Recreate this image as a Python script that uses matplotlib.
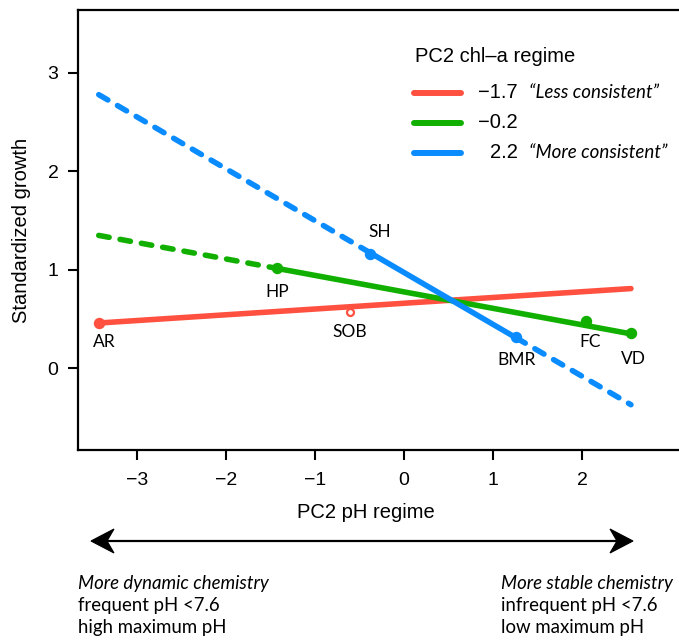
import matplotlib
matplotlib.use("Agg")
import matplotlib.pyplot as plt
from matplotlib.lines import Line2D
from matplotlib.patches import Polygon

# ---------------- data ----------------
regimes = ["\u22121.7", "\u22120.2", "2.2"]
regime_notes = ["\u201cLess consistent\u201d", "", "\u201cMore consistent\u201d"]
colors = ["#FF5040", "#11B000", "#0A8CFF"]

line_x = [-3.43, 2.55]                 # full extent of fitted lines
line_y = [[0.46, 0.81],                # -1.7
          [1.35, 0.35],                # -0.2
          [2.78, -0.37]]               # 2.2
solid_range = [[-3.43, 2.55], [-1.43, 2.55], [-0.38, 1.26]]

sites = ["AR", "SOB", "HP", "FC", "VD", "SH", "BMR"]
site_x = [-3.43, -0.61, -1.43, 2.04, 2.55, -0.38, 1.26]
site_y = [0.46, 0.57, 1.02, 0.48, 0.36, 1.16, 0.32]
site_regime = [0, 0, 1, 1, 1, 2, 2]
# label offsets in points
site_off = [(4, -14), (0, -14), (0, -17), (3, -15), (2, -19), (7, 16), (0, -17)]

xticks = [-3, -2, -1, 0, 1, 2]
yticks = [0, 1, 2, 3]

W, H = 679, 640
fig = plt.figure(figsize=(W / 100, H / 100), dpi=100)
def fx(x): return x / W
def fy(y): return 1 - y / H

ax = fig.add_axes([fx(78), fy(450), fx(679) - fx(78), fy(10) - fy(450)])
ax.set_xlim(-3.663, 3.09)
ax.set_ylim(-0.83, 3.64)

lw = 4.0
dash = (0, (1.9, 2.0))

def yat(i, x):
    (x0, x1), (y0, y1) = line_x, line_y[i]
    return y0 + (y1 - y0) * (x - x0) / (x1 - x0)

for i in range(3):
    a, b = solid_range[i]
    c = colors[i]
    if a > line_x[0]:
        ax.plot([line_x[0], a], [yat(i, line_x[0]), yat(i, a)], color=c, lw=lw,
                linestyle=dash, dash_capstyle="round", zorder=3)
    if b < line_x[1]:
        ax.plot([b, line_x[1]], [yat(i, b), yat(i, line_x[1])], color=c, lw=lw,
                linestyle=dash, dash_capstyle="round", zorder=3)
    ax.plot([a, b], [yat(i, a), yat(i, b)], color=c, lw=lw,
            solid_capstyle="round", zorder=4 if i != 0 else 3.5)

for s, x, y, r, off in zip(sites, site_x, site_y, site_regime, site_off):
    if s == "SOB":
        ax.plot(x, y, "o", ms=5, mfc="white", mec=colors[r], mew=1.6, zorder=3.2)
    else:
        ax.plot(x, y, "o", ms=7.2, color=colors[r], zorder=5)
    ax.annotate(s, (x, y), xytext=off, textcoords="offset points",
                ha="center", va="center", fontsize=12.5, family="Lato")

ax.set_xticks(xticks)
ax.set_xticklabels([f"\u2212{abs(t)}" if t < 0 else str(t) for t in xticks])
ax.set_yticks(yticks)
ax.tick_params(direction="out", length=7, width=1.5, labelsize=14)
ax.tick_params(axis="x", pad=9)
ax.tick_params(axis="y", pad=7)
for sp in ["left", "bottom", "top"]:
    ax.spines[sp].set_linewidth(1.6)
ax.spines["right"].set_visible(False)
ax.set_ylabel("Standardized growth", fontsize=14.5, labelpad=12)
for t in ax.get_xticklabels() + ax.get_yticklabels():
    t.set_family("Liberation Sans")
ax.yaxis.label.set_family("Liberation Sans")

# x label
fig.text(fx(366), fy(513), "PC2 pH regime", ha="center", va="center",
         fontsize=14.5, family="Liberation Sans")

# legend (manual)
fig.text(fx(415), fy(57), "PC2 chl\u2013a regime", ha="left", va="center",
         fontsize=14.5, family="Liberation Sans")
leg_y = [93, 123, 153]
for i in range(3):
    fig.add_artist(Line2D([fx(414), fx(461)], [fy(leg_y[i])] * 2, color=colors[i],
                          lw=lw + 0.3, solid_capstyle="round"))
    fig.text(fx(518), fy(leg_y[i]), regimes[i], ha="right", va="center",
             fontsize=14.5, family="Liberation Sans")
    if regime_notes[i]:
        fig.text(fx(529), fy(leg_y[i]), regime_notes[i], ha="left", va="center",
                 fontsize=13.5, family="Lato", style="italic")

# double arrow with stealth heads
ay = 541
x_l, x_r = 91, 633
fig.add_artist(Line2D([fx(x_l + 10), fx(x_r - 10)], [fy(ay)] * 2, color="black", lw=1.6))
for tip, sgn in [(x_l, 1), (x_r, -1)]:
    pts = [(fx(tip), fy(ay)),
           (fx(tip + sgn * 23), fy(ay - 12)),
           (fx(tip + sgn * 16), fy(ay)),
           (fx(tip + sgn * 23), fy(ay + 12))]
    fig.add_artist(Polygon(pts, closed=True, facecolor="black", edgecolor="black",
                           lw=0.8, transform=fig.transFigure))

left_txt = [("More dynamic chemistry", "italic"), ("frequent pH <7.6", "normal"),
            ("high maximum pH", "normal")]
right_txt = [("More stable chemistry", "italic"), ("infrequent pH <7.6", "normal"),
             ("low maximum pH", "normal")]
rows = [583, 606, 628]
for (t, st), y in zip(left_txt, rows):
    fig.text(fx(78), fy(y), t, ha="left", va="center", fontsize=13.4,
             family="Lato", style=st)
for (t, st), y in zip(right_txt, rows):
    fig.text(fx(501), fy(y), t, ha="left", va="center", fontsize=13.4,
             family="Lato", style=st)

fig.savefig("out.png", dpi=100)
